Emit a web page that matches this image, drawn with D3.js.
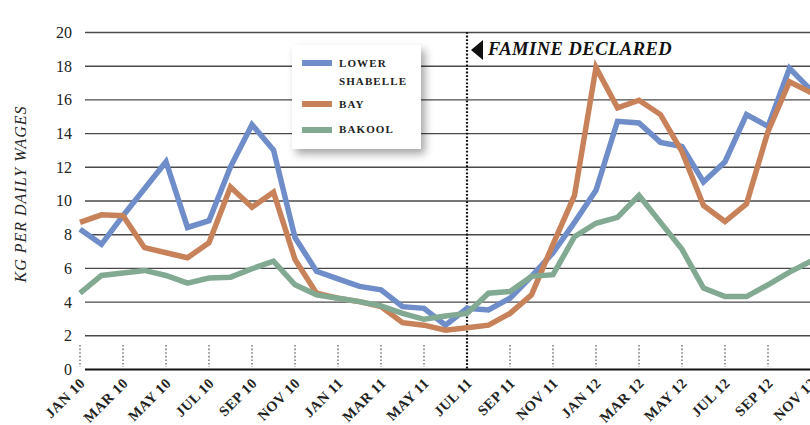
<!DOCTYPE html>
<html><head><meta charset="utf-8">
<script src="https://cdn.jsdelivr.net/npm/d3@7"></script>
<style>body{margin:0;background:#fff;} svg{display:block;}</style>
</head><body><svg id="c" width="810" height="425"></svg>
<script>
const months = ["JAN 10","FEB 10","MAR 10","APR 10","MAY 10","JUN 10","JUL 10","AUG 10","SEP 10","OCT 10","NOV 10","DEC 10",
  "JAN 11","FEB 11","MAR 11","APR 11","MAY 11","JUN 11","JUL 11","AUG 11","SEP 11","OCT 11","NOV 11","DEC 11",
  "JAN 12","FEB 12","MAR 12","APR 12","MAY 12","JUN 12","JUL 12","AUG 12","SEP 12","OCT 12","NOV 12"];
const tickLabels = ["JAN 10","MAR 10","MAY 10","JUL 10","SEP 10","NOV 10","JAN 11","MAR 11","MAY 11","JUL 11","SEP 11","NOV 11","JAN 12","MAR 12","MAY 12","JUL 12","SEP 12","NOV 12"];
const yTicks = [0,2,4,6,8,10,12,14,16,18,20];
const lowerShabelle = [8.3,7.4,9.1,10.7,12.3,8.4,8.8,12.0,14.5,13.0,7.8,5.8,5.35,4.9,4.7,3.7,3.6,2.6,3.6,3.5,4.2,5.5,6.9,8.7,10.6,14.7,14.6,13.45,13.2,11.1,12.3,15.1,14.4,17.85,16.55];
const bay = [8.7,9.15,9.1,7.2,6.9,6.6,7.5,10.8,9.6,10.5,6.5,4.5,4.2,4.0,3.7,2.75,2.6,2.3,2.45,2.6,3.3,4.4,7.4,10.3,17.9,15.5,15.95,15.1,12.9,9.7,8.75,9.8,14.1,17.05,16.4];
const bakool = [4.5,5.55,5.7,5.85,5.55,5.1,5.4,5.45,5.95,6.4,5.0,4.4,4.2,4.0,3.75,3.3,2.95,3.15,3.3,4.5,4.6,5.5,5.6,7.85,8.65,9.0,10.3,8.7,7.1,4.8,4.3,4.3,5.0,5.75,6.4];
const seriesColors = ["#6f8dc9","#c8825a","#82aa93"];
const famineMonth = "JUL 11";
const famineLabel = "FAMINE DECLARED";
const yTitle = "KG PER DAILY WAGES";

const serif = "'Liberation Serif','DejaVu Serif',serif";
const svg = d3.select("#c");
const x = d3.scalePoint().domain(months).range([80, 811]);
const y = d3.scaleLinear().domain([0, 20]).range([369, 32]);

const defs = svg.append("defs");
const f = defs.append("filter").attr("id","sh").attr("x","-20%").attr("y","-20%").attr("width","150%").attr("height","150%");
f.append("feDropShadow").attr("dx",4).attr("dy",5).attr("stdDeviation",4).attr("flood-color","#000").attr("flood-opacity",0.35);

const yAxis = svg.append("g").attr("transform","translate(85,0)")
  .call(d3.axisLeft(y).tickValues(yTicks).tickSize(-725).tickPadding(13));
yAxis.select(".domain").remove();
yAxis.selectAll(".tick line").attr("stroke", d => d === 0 ? "#111" : "#4a4a4a").attr("stroke-width", d => d === 0 ? 2.2 : 1.4);
yAxis.selectAll(".tick text").attr("font-family", serif).attr("font-size", 16).attr("fill","#222").attr("dy","0.34em");

svg.append("g").selectAll("line").data(tickLabels).join("line")
  .attr("x1", d => x(d)).attr("x2", d => x(d)).attr("y1", 345).attr("y2", 367)
  .attr("stroke", "#999").attr("stroke-width", 2).attr("stroke-dasharray", "1.6,2");

svg.append("g").selectAll("text").data(tickLabels).join("text")
  .attr("transform", d => `translate(${x(d) + 6},${384}) rotate(-45)`)
  .attr("text-anchor","end").attr("font-family", serif).attr("font-weight","bold")
  .attr("font-size", 14.5).attr("letter-spacing", 0.5).attr("fill","#222").text(d => d);

svg.append("text").attr("transform","translate(26,194) rotate(-90)").attr("text-anchor","middle")
  .attr("font-family", serif).attr("font-style","italic").attr("font-size",16).attr("letter-spacing",1)
  .attr("fill","#222").text(yTitle);

const fx = x(famineMonth);
svg.append("line").attr("x1",fx).attr("x2",fx).attr("y1",y(20)).attr("y2",y(0))
  .attr("stroke","#111").attr("stroke-width",2.2).attr("stroke-dasharray","1.8,1.8");
svg.append("path").attr("d",`M${fx+4},50 L${fx+16},40 L${fx+16},60 Z`).attr("fill","#111");
svg.append("text").attr("x", fx + 21).attr("y", 55).attr("font-family", serif).attr("font-style","italic")
  .attr("font-weight","bold").attr("font-size",18.5).attr("letter-spacing",0.5).attr("fill","#111").text(famineLabel);

const line = d3.line().x((d,i) => x(months[i])).y(d => y(d));
[lowerShabelle, bay, bakool].forEach((s, k) => {
  svg.append("path").datum(s).attr("d", line).attr("fill","none")
    .attr("stroke", seriesColors[k]).attr("stroke-width", 5.5).attr("stroke-linejoin","miter");
});

const lg = svg.append("g");
lg.append("rect").attr("x",292).attr("y",45).attr("width",129).attr("height",104).attr("fill","#fff").attr("filter","url(#sh)");
const legendRows = [
  {k:0, sy:63, lines:[["LOWER",67],["SHABELLE",85]]},
  {k:1, sy:104, lines:[["BAY",108]]},
  {k:2, sy:130, lines:[["BAKOOL",133]]}
];
legendRows.forEach(r => {
  lg.append("line").attr("x1",302).attr("x2",332).attr("y1",r.sy).attr("y2",r.sy)
    .attr("stroke",seriesColors[r.k]).attr("stroke-width",6);
  r.lines.forEach(([t,yy]) => lg.append("text").attr("x",339).attr("y",yy).attr("font-family",serif)
    .attr("font-weight","bold").attr("font-size",11).attr("letter-spacing",1.1).attr("fill","#222").text(t));
});
</script></body></html>
